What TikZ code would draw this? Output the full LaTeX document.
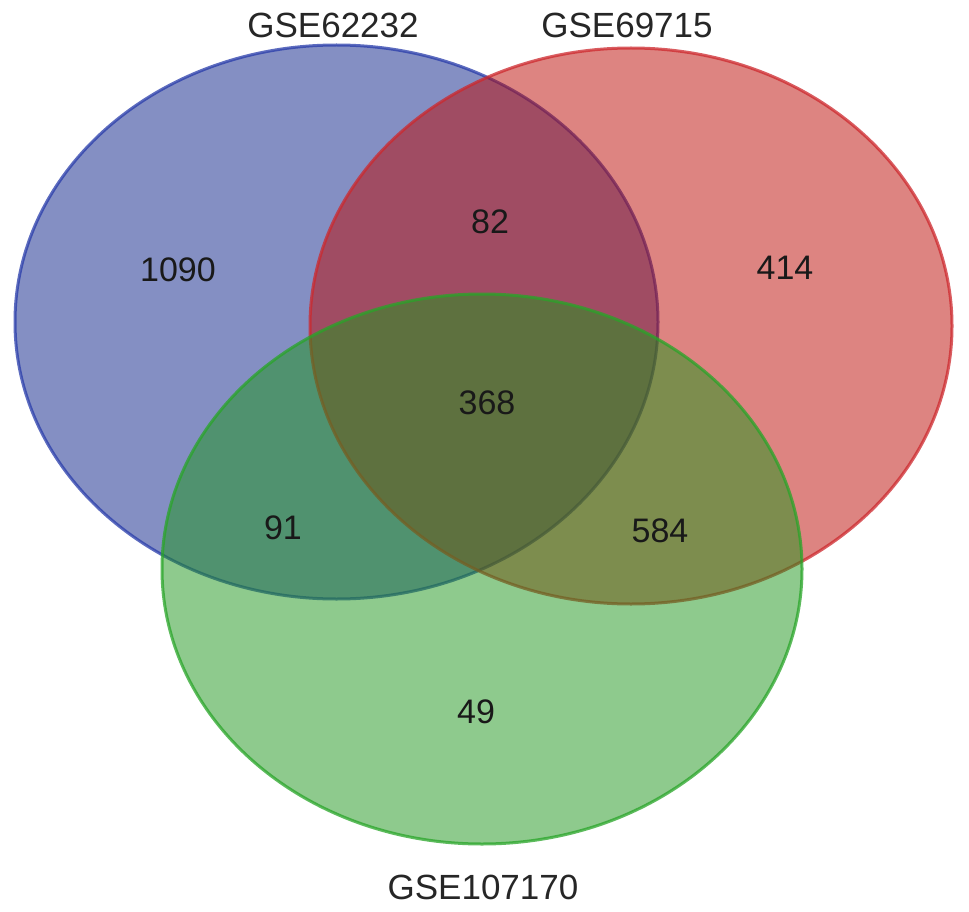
\documentclass[tikz,border=0pt]{standalone}
\usepackage{fontspec}
\setmainfont{Liberation Sans}
\begin{document}
\begin{tikzpicture}[x=1pt,y=-1pt,
  setshape/.style={fill opacity=0.5, draw opacity=0.75, line width=3pt},
  lbl/.style={font=\fontsize{35}{38}\selectfont, text=black!85, inner sep=0pt},
  num/.style={font=\fontsize{34}{37}\selectfont, text=black!90, inner sep=0pt}]
\definecolor{bfill}{RGB}{11,33,137}
\definecolor{bdraw}{RGB}{40,60,170}
\definecolor{rfill}{RGB}{189,11,5}
\definecolor{rdraw}{RGB}{205,40,45}
\definecolor{gfill}{RGB}{30,150,28}
\definecolor{gdraw}{RGB}{40,165,40}
\useasboundingbox (0,0) rectangle (969,912);
\fill[white] (0,0) rectangle (969,912);
\path[setshape, fill=bfill, draw=bdraw] (336.5,322) ellipse [x radius=321.5, y radius=277];
\path[setshape, fill=rfill, draw=rdraw] (631,326) ellipse [x radius=321, y radius=278];
\path[setshape, fill=gfill, draw=gdraw] (482,569) ellipse [x radius=320, y radius=275];
\node[lbl] (la) at (333,25) {GSE62232};
\node[lbl] (lb) at (627,25) {GSE69715};
\node[lbl] (lc) at (483,887) {GSE107170};
\node[num] (n1) at (178,270) {1090};
\node[num] (n2) at (490,222) {82};
\node[num] (n3) at (785,268) {414};
\node[num] (n4) at (487,403) {368};
\node[num] (n5) at (283,528) {91};
\node[num] (n6) at (660,531) {584};
\node[num] (n7) at (476,712) {49};
\end{tikzpicture}
\end{document}
